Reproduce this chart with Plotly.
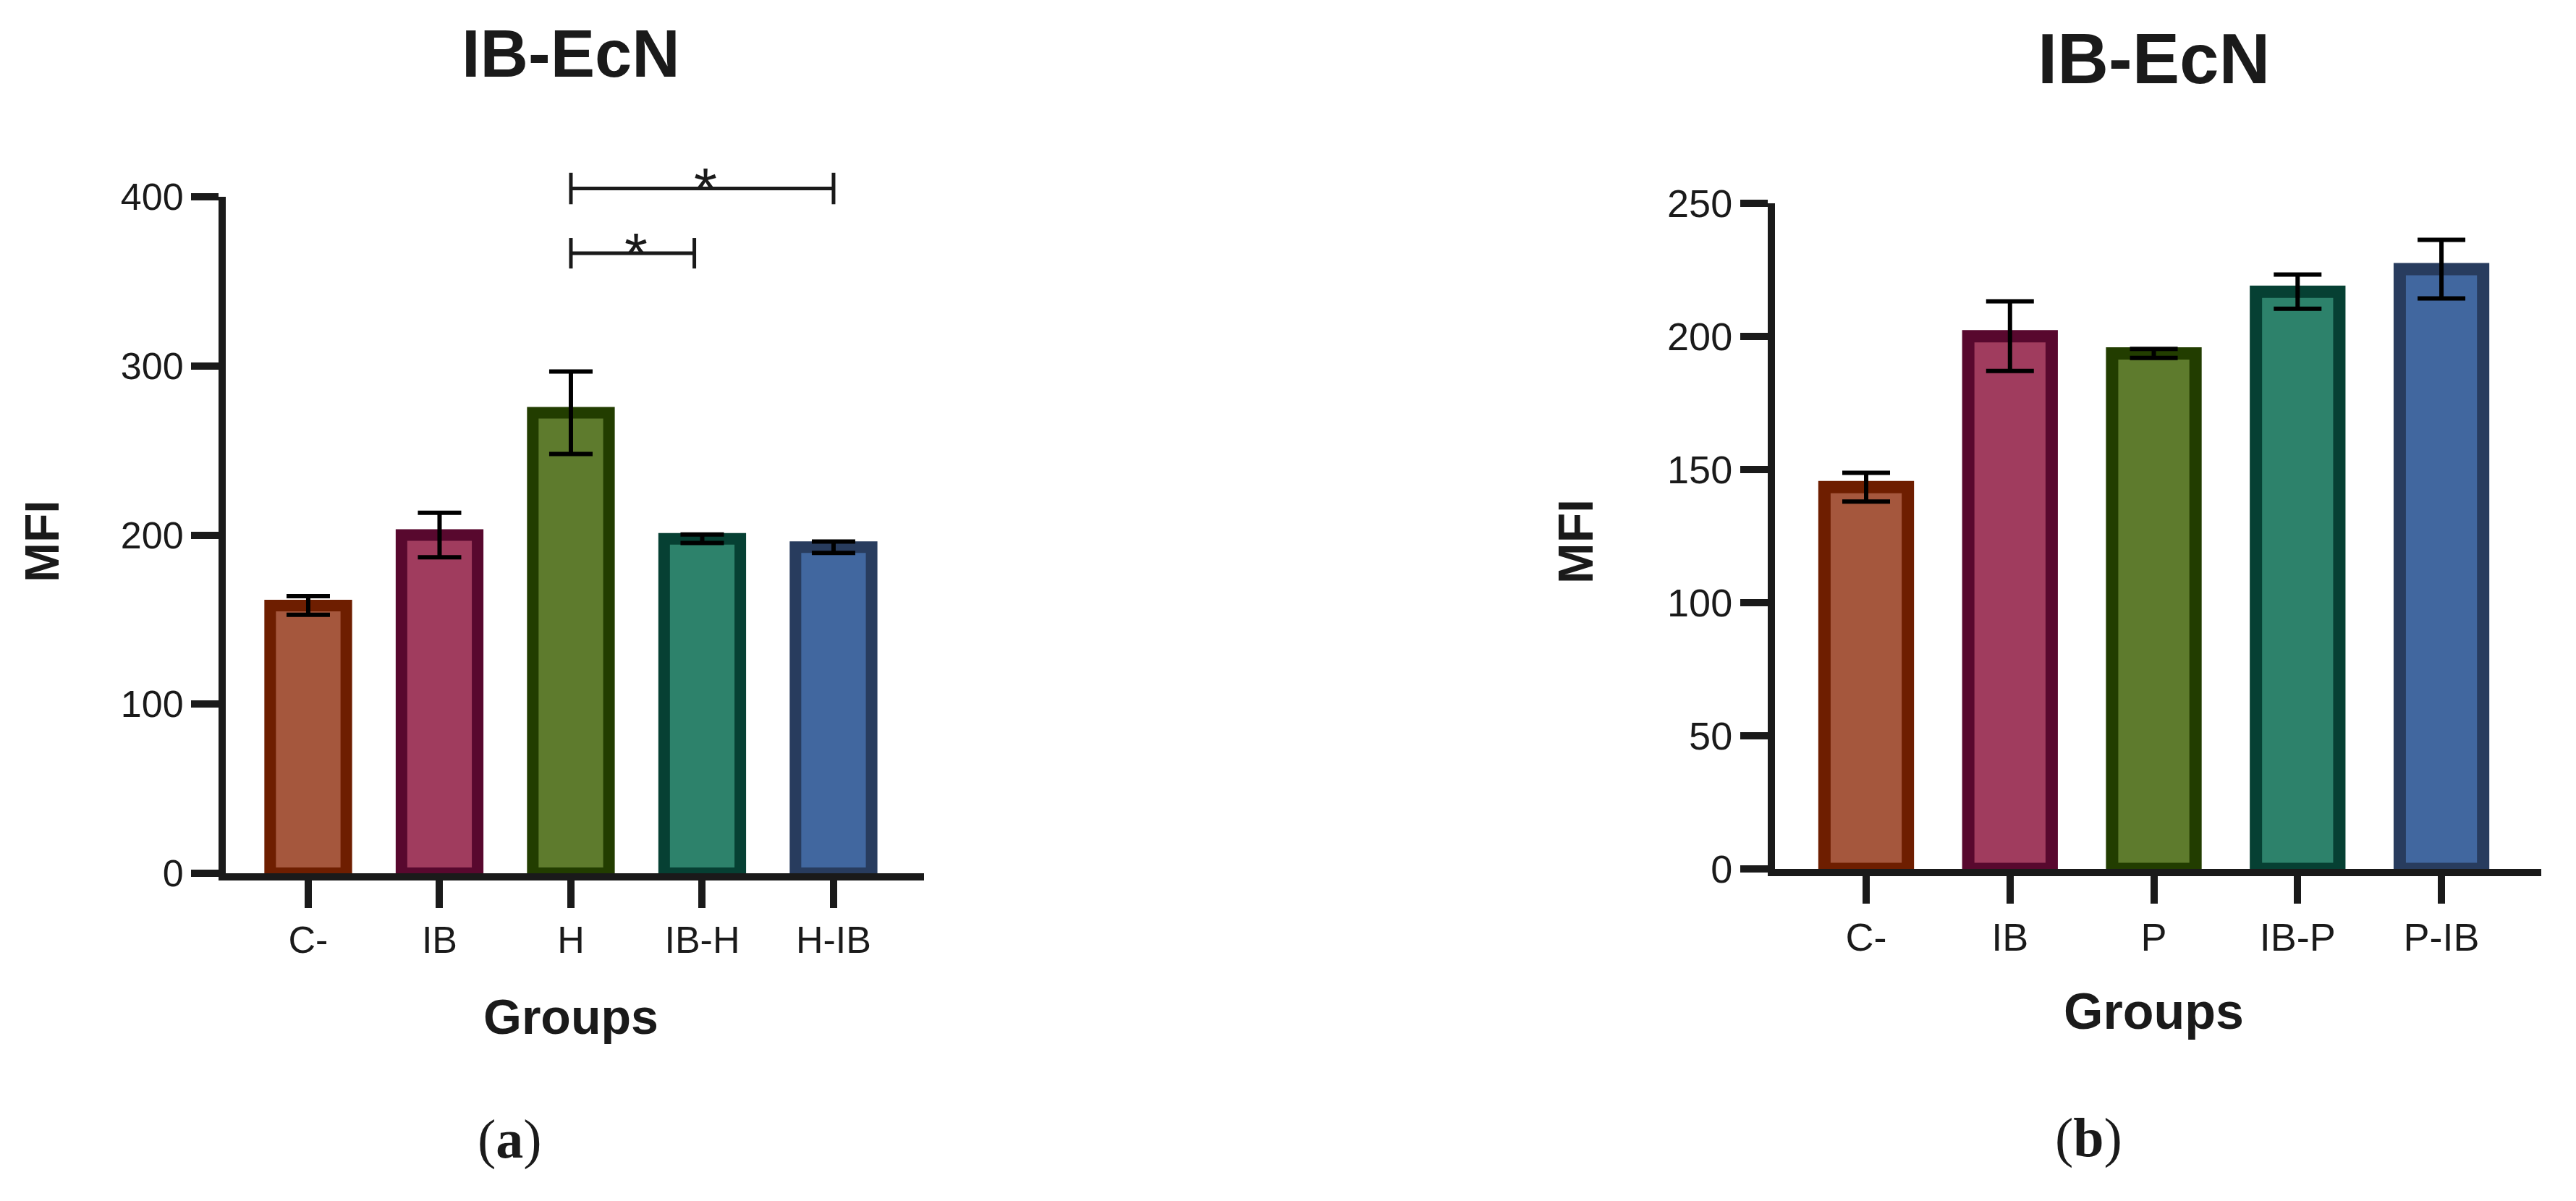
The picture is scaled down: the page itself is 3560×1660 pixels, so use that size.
import plotly.graph_objects as go

# ---------------- data ----------------
groups_a = ["C-", "IB", "H", "IB-H", "H-IB"]
mfi_a = [158.3, 200.0, 272.3, 197.8, 192.8]
err_a = [5.5, 13.2, 24.4, 2.5, 3.4]

groups_b = ["C-", "IB", "P", "IB-P", "P-IB"]
mfi_b = [143.4, 200.1, 193.6, 216.8, 225.3]
err_b = [5.4, 13.1, 1.7, 6.4, 11.0]

yticks_a = [0, 100, 200, 300, 400]
yticks_b = [0, 50, 100, 150, 200, 250]

# significance brackets (panel a): from category position to category position at a level
sig_x0 = [2.0, 2.0]
sig_x1 = [2.94, 4.0]
sig_level = [366.6, 404.9]
sig_cap = [9.0, 9.3]
sig_text = ["*", "*"]

fill_colors = ["#A5573D", "#A03C5E", "#5E7B2D", "#2D826B", "#41679F"]
edge_colors = ["#6E1E00", "#58082E", "#223D00", "#064033", "#283C5E"]

INK = "#1a1a1a"
SANS = "Liberation Sans, Arial, sans-serif"
SERIF = "Liberation Serif, Times New Roman, serif"

W, H = 3560, 1660

fig = go.Figure()

fig.add_trace(go.Bar(
    x=groups_a, y=mfi_a, width=0.58,
    marker=dict(color=fill_colors, line=dict(color=edge_colors, width=16)),
    error_y=dict(type="data", array=err_a, color="black", thickness=6, width=30),
    xaxis="x", yaxis="y", showlegend=False, hoverinfo="x+y",
))
fig.add_trace(go.Bar(
    x=groups_b, y=mfi_b, width=0.58,
    marker=dict(color=fill_colors, line=dict(color=edge_colors, width=17)),
    error_y=dict(type="data", array=err_b, color="black", thickness=6, width=33),
    xaxis="x2", yaxis="y2", showlegend=False, hoverinfo="x+y",
))

common_axis = dict(
    showline=True, linecolor=INK, linewidth=10,
    ticks="outside", ticklen=38, tickwidth=10, tickcolor=INK,
    showgrid=False, zeroline=False, fixedrange=True, automargin=False,
)

ymax_a = yticks_a[-1]
ymax_b = yticks_b[-1]

fig.update_layout(
    template="none",
    width=W, height=H, autosize=False,
    margin=dict(l=0, r=0, t=0, b=0, pad=0),
    paper_bgcolor="white", plot_bgcolor="white",
    showlegend=False,
    xaxis=dict(
        domain=[312 / W, 1277 / W], anchor="y",
        type="category", categoryorder="array", categoryarray=groups_a,
        range=[-0.628, 4.689],
        tickfont=dict(family=SANS, size=52, color=INK),
        **common_axis,
    ),
    yaxis=dict(
        domain=[1 - 1207 / H, 1 - 272 / H], anchor="x",
        range=[0, ymax_a], tickvals=yticks_a,
        tickfont=dict(family=SANS, size=52, color=INK),
        **common_axis,
    ),
    xaxis2=dict(
        domain=[2453 / W, 3512 / W], anchor="y2",
        type="category", categoryorder="array", categoryarray=groups_b,
        range=[-0.634, 4.694],
        tickfont=dict(family=SANS, size=54, color=INK),
        **common_axis,
    ),
    yaxis2=dict(
        domain=[1 - 1201 / H, 1 - 281 / H], anchor="x2",
        range=[0, ymax_b], tickvals=yticks_b,
        tickfont=dict(family=SANS, size=54, color=INK),
        **common_axis,
    ),
)

# significance brackets
shapes = []
annotations = []
for x0, x1, lvl, cap, txt in zip(sig_x0, sig_x1, sig_level, sig_cap, sig_text):
    line_style = dict(color=INK, width=5)
    shapes.append(dict(type="line", xref="x", yref="y domain",
                       x0=x0, x1=x1, y0=lvl / ymax_a, y1=lvl / ymax_a, line=line_style))
    for xe in (x0, x1):
        shapes.append(dict(type="line", xref="x", yref="y domain",
                           x0=xe, x1=xe, y0=(lvl - cap) / ymax_a, y1=(lvl + cap) / ymax_a,
                           line=line_style))
    annotations.append(dict(xref="x", yref="y domain", x=(x0 + x1) / 2, y=lvl / ymax_a,
                            text=txt, showarrow=False, yanchor="middle", xanchor="center",
                            xshift=5, font=dict(family=SANS, size=82, color=INK)))

# titles, axis titles and panel labels
def label(text, x, y, size, xref="paper", family=SANS, angle=0):
    return dict(text=text, x=x, y=y, xref=xref, yref="paper", showarrow=False,
                xanchor="center", yanchor="middle", textangle=angle,
                font=dict(family=family, size=size, color=INK))

annotations += [
    label("<b>IB-EcN</b>", 2, 1 - 74 / H, 92, xref="x"),
    label("<b>IB-EcN</b>", 2, 1 - 81.5 / H, 98, xref="x2"),
    label("<b>Groups</b>", 2, 1 - 1405 / H, 68, xref="x"),
    label("<b>Groups</b>", 2, 1 - 1398 / H, 70, xref="x2"),
    label("<b>MFI</b>", 58 / W, 1 - 748 / H, 66, angle=-90),
    label("<b>MFI</b>", 2177 / W, 1 - 749 / H, 68, angle=-90),
    label("(<b>a</b>)", 704 / W, 1 - 1574 / H, 76, family=SERIF),
    label("(<b>b</b>)", 2886 / W, 1 - 1572 / H, 76, family=SERIF),
]

fig.update_layout(shapes=shapes, annotations=annotations)

fig.write_html(
    "out.html",
    config={"displayModeBar": False},
    post_script="document.body.style.margin='0';document.body.style.overflow='hidden';",
)
